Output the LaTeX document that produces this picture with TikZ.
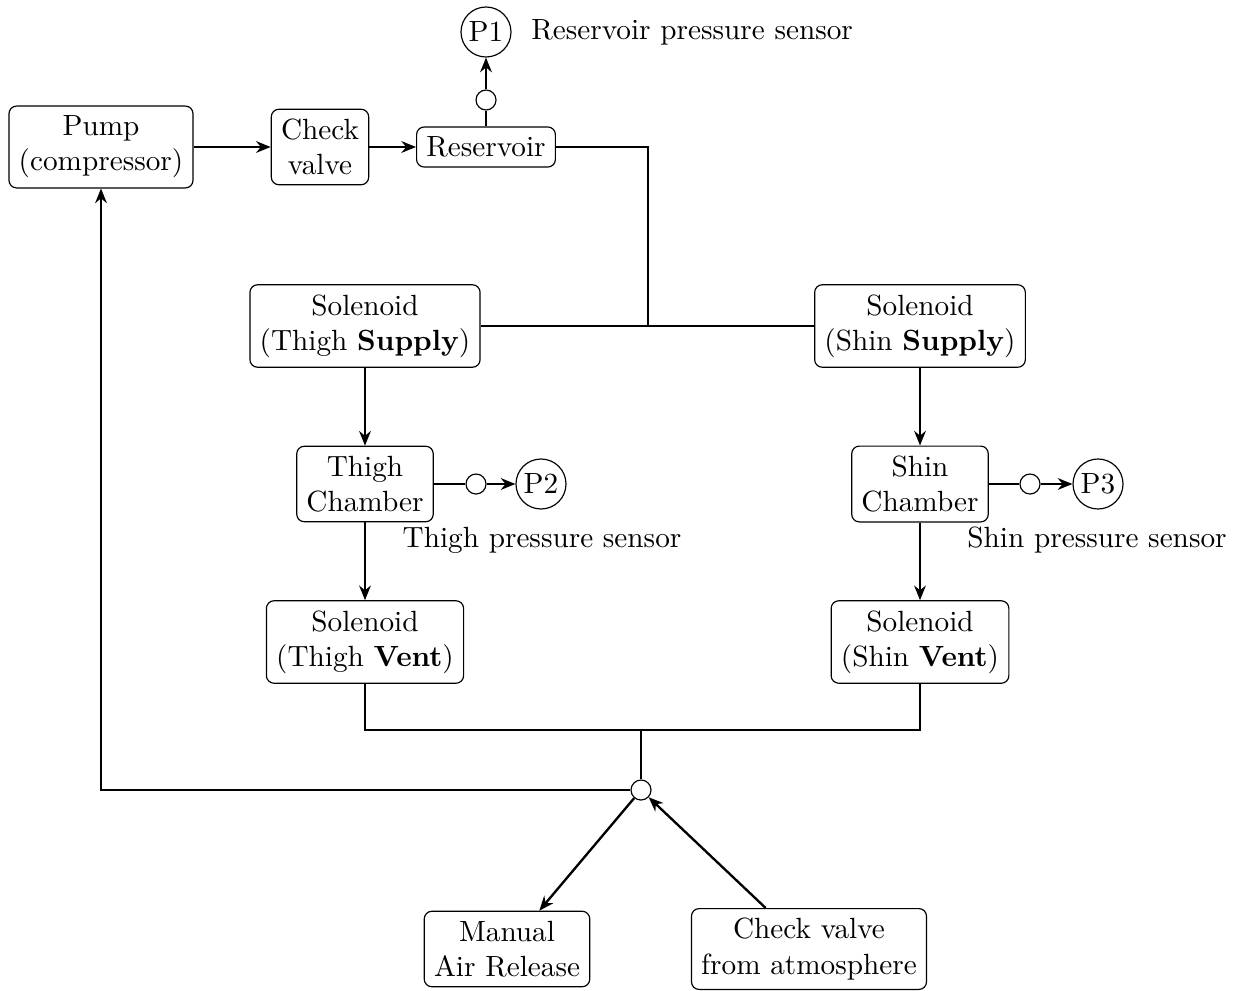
\documentclass[tikz,border=0pt]{standalone}
\usetikzlibrary{arrows.meta}
\begin{document}
\begin{tikzpicture}[x=0.342pt,y=-0.342pt,
  box/.style={draw,rounded corners=2.6pt,align=center,inner sep=3.33pt},
  dot/.style={draw,circle,minimum size=6.84pt,inner sep=0pt},
  sensor/.style={draw,circle,minimum size=17.1pt,inner sep=0pt},
  pipe/.style={thick},
  flow/.style={thick,-{Stealth[length=5pt,width=4pt]}}]
\useasboundingbox (0,0) rectangle (1241,990);
\node[box] (pump) at (101,147) {Pump\\(compressor)};
\node[box] (check) at (320,147) {Check\\valve};
\node[box] (res) at (486,147) {Reservoir};
\node[dot] (c1) at (486,100) {};
\node[sensor] (p1) at (486,32) {P1};
\node[anchor=west] (l1) at (521,32) {Reservoir pressure sensor};
\node[box] (ts) at (365,326) {Solenoid\\(Thigh \textbf{Supply})};
\node[box] (ss) at (920,326) {Solenoid\\(Shin \textbf{Supply})};
\node[box] (tc) at (365,484) {Thigh\\Chamber};
\node[box] (sc) at (920,484) {Shin\\Chamber};
\node[dot] (c2) at (476,484) {};
\node[sensor] (p2) at (541,484) {P2};
\node[dot] (c3) at (1030,484) {};
\node[sensor] (p3) at (1098,484) {P3};
\node (l2) at (542,540) {Thigh pressure sensor};
\node (l3) at (1097,540) {Shin pressure sensor};
\node[box] (tv) at (365,642) {Solenoid\\(Thigh \textbf{Vent})};
\node[box] (sv) at (920,642) {Solenoid\\(Shin \textbf{Vent})};
\node[dot] (c4) at (641,790) {};
\node[box] (man) at (507,949) {Manual\\Air Release};
\node[box] (atm) at (809,949) {Check valve\\from atmosphere};
\coordinate (j1) at (648,326);
\coordinate (j2) at (641,730);
\draw[flow] (pump.east) -- (check.west);
\draw[flow] (check.east) -- (res.west);
\draw[pipe] (res.north) -- (c1.south);
\draw[flow] (c1.north) -- (p1.south);
\draw[pipe] (res.east) -- (res.east -| j1) -- (j1);
\draw[pipe] (ts.east) -- (ts.east -| ss.west);
\draw[flow] (ts.south) -- (tc.north);
\draw[flow] (tc.south) -- (tv.north);
\draw[flow] (ss.south) -- (sc.north);
\draw[flow] (sc.south) -- (sv.north);
\draw[pipe] (tc.east) -- (c2.west);
\draw[flow] (c2.east) -- (p2.west);
\draw[pipe] (sc.east) -- (c3.west);
\draw[flow] (c3.east) -- (p3.west);
\draw[pipe] (tv.south) -- (tv.south |- j2) -- (sv.south |- j2) -- (sv.south);
\draw[pipe] (j2) -- (c4.north);
\draw[flow] (c4.west) -- (pump.south |- c4) -- (pump.south);
\draw[flow] (c4) -- (man);
\draw[flow] (atm) -- (c4);
\end{tikzpicture}
\end{document}
